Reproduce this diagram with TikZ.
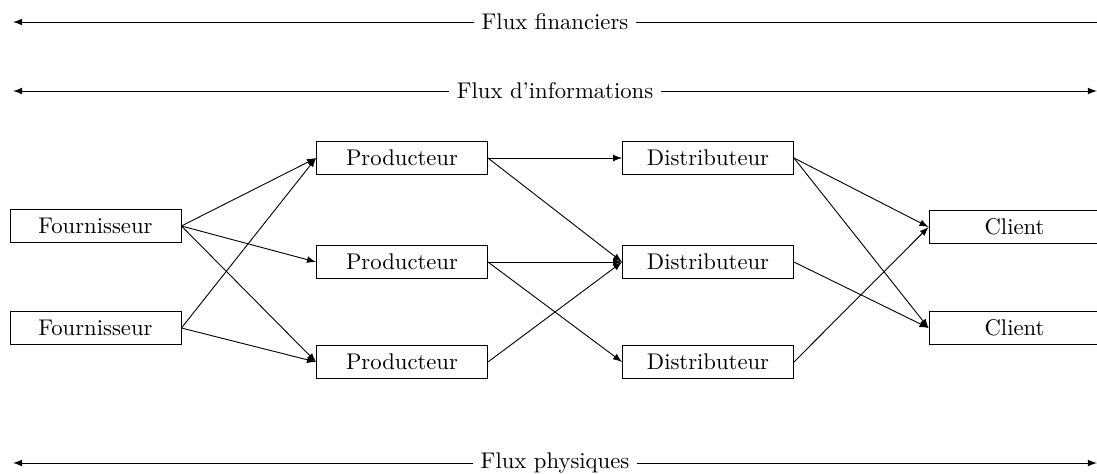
\documentclass[tikz,border=0pt]{standalone}
\usetikzlibrary{positioning}
\begin{document}
\begin{tikzpicture}[x=0.0155cm, y=-0.0155cm, >=latex, box/.style = {draw, rectangle, minimum width=2.65cm, minimum height=0.5cm, inner sep=2pt}]
            \useasboundingbox (0,0) rectangle (1097,474);
            \node[box] (f1) at (95.5,226) {Fournisseur};
            \node[box] (f2) at (95.5,328) {Fournisseur};
            \node[box] (p1) at (402,158) {Producteur};
            \node[box] (p2) at (402,262) {Producteur};
            \node[box] (p3) at (402,362) {Producteur};
            \node[box] (d1) at (708,158) {Distributeur};
            \node[box] (d2) at (708,262) {Distributeur};
            \node[box] (d3) at (708,362) {Distributeur};
            \node[box] (c1) at (1014.5,227) {Client};
            \node[box] (c2) at (1014.5,328) {Client};
            \draw[->] (f1.east) -- (p1.west);
            \draw[->] (f1.east) -- (p2.west);
            \draw[->] (f1.east) -- (p3.west);
            \draw[->] (f2.east) -- (p1.west);
            \draw[->] (f2.east) -- (p3.west);
            \draw[->] (p1.east) -- (d1.west);
            \draw[->] (p1.east) -- (d2.west);
            \draw[->] (p2.east) -- (d2.west);
            \draw[->] (p2.east) -- (d3.west);
            \draw[->] (p3.east) -- (d2.west);
            \draw[->] (d1.east) -- (c1.west);
            \draw[->] (d1.east) -- (c2.west);
            \draw[->] (d2.east) -- (c2.west);
            \draw[->] (d3.east) -- (c1.west);
            % flux
            \node (fin) at (555,22) {Flux financiers};
            \node (info) at (555,91) {Flux d'informations};
            \node (phys) at (555,463) {Flux physiques};
            \coordinate (finL) at (13,22);
            \coordinate (finR) at (1097,22);
            \coordinate (infoL) at (13,91);
            \coordinate (infoR) at (1097,91);
            \coordinate (physL) at (13,463);
            \coordinate (physR) at (1097,463);
            \draw[->] (fin) -- (finL);
            \draw (fin) -- (finR);
            \draw[->] (info) -- (infoL);
            \draw[->] (info) -- (infoR);
            \draw[->] (phys) -- (physL);
            \draw[->] (phys) -- (physR);
        \end{tikzpicture}
\end{document}
